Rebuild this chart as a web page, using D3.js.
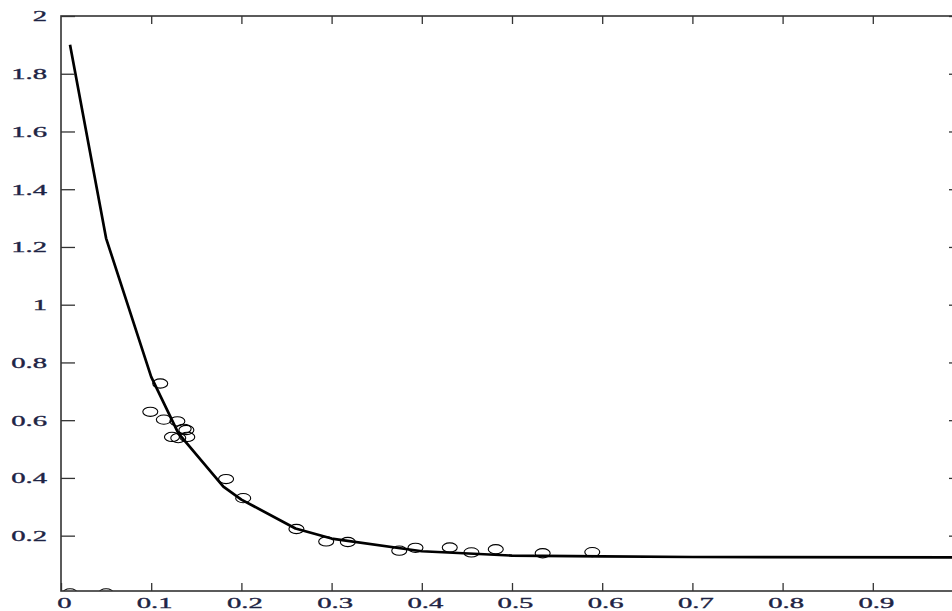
<!DOCTYPE html>
<html>
<head>
<meta charset="utf-8">
<script src="https://cdn.jsdelivr.net/npm/d3@7"></script>
<style>
  body { margin: 0; background: #fff; }
  svg { display: block; }
  .tick text { font-family: "Liberation Serif", "DejaVu Serif", serif; font-size: 15.5px; fill: #1e2444; stroke: #1e2444; stroke-width: 0.35px; }
</style>
</head>
<body>
<svg width="952" height="611"></svg>
<script>
// fitted curve (piecewise)
var curveX = [0.01, 0.05, 0.1, 0.13, 0.18, 0.2, 0.26, 0.3, 0.4, 0.5, 0.6, 0.7, 1.0];
var curveY = [1.90, 1.23, 0.75, 0.555, 0.37, 0.325, 0.225, 0.19, 0.146, 0.131, 0.128, 0.126, 0.125];

// measured points
var pointX = [0.01, 0.05, 0.099, 0.110, 0.114, 0.129, 0.123, 0.130, 0.136, 0.139, 0.140, 0.183, 0.202,
              0.261, 0.294, 0.318, 0.375, 0.393, 0.431, 0.455, 0.482, 0.534, 0.589];
var pointY = [0.0, 0.0, 0.629, 0.727, 0.602, 0.596, 0.542, 0.538, 0.57, 0.566, 0.542, 0.396, 0.330,
              0.223, 0.180, 0.178, 0.148, 0.158, 0.159, 0.142, 0.153, 0.139, 0.143];

var xTicks = [0, 0.1, 0.2, 0.3, 0.4, 0.5, 0.6, 0.7, 0.8, 0.9];
var yTicks = [0.2, 0.4, 0.6, 0.8, 1, 1.2, 1.4, 1.6, 1.8, 2];

var svg = d3.select("svg");
var pLeft = 61, pRight = 963, pTop = 16, pBottom = 591;
var stretch = 1.85;

var x = d3.scaleLinear().domain([0, 1]).range([pLeft, pRight]);
var y = d3.scaleLinear().domain([0, 2]).range([593.4, pTop]);

svg.append("clipPath").attr("id", "clip")
  .append("rect").attr("x", pLeft).attr("y", pTop).attr("width", pRight - pLeft).attr("height", pBottom - pTop);

var plot = svg.append("g").attr("clip-path", "url(#clip)");

// circles
plot.selectAll("ellipse").data(pointX).enter().append("ellipse")
  .attr("cx", function(d) { return x(d); })
  .attr("cy", function(d, i) { return y(pointY[i]); })
  .attr("rx", 7.5).attr("ry", 4.6)
  .attr("fill", "none").attr("stroke", "#000").attr("stroke-width", 1.1);

// curve
var line = d3.line().x(function(d) { return x(d); }).y(function(d, i) { return y(curveY[i]); });
plot.append("path").datum(curveX)
  .attr("d", line)
  .attr("fill", "none").attr("stroke", "#000").attr("stroke-width", 2.7).attr("stroke-linejoin", "round");

// axes
var fmt = function(d) { return d3.format("")(d); };

var gb = svg.append("g").attr("transform", "translate(0," + pBottom + ")")
  .call(d3.axisBottom(x).tickValues(xTicks).tickSize(-8).tickPadding(6).tickFormat(fmt));
gb.selectAll(".tick text").attr("transform", "scale(" + stretch + ",1)").attr("dx", 3 / stretch);

var gt = svg.append("g").attr("transform", "translate(0," + pTop + ")")
  .call(d3.axisTop(x).tickValues(xTicks.slice(1)).tickSize(-8).tickFormat(""));

var gl = svg.append("g").attr("transform", "translate(" + pLeft + ",0)")
  .call(d3.axisLeft(y).tickValues(yTicks).tickSize(-14).tickFormat(fmt));
gl.selectAll(".tick text").attr("x", -14 / stretch).attr("transform", "scale(" + stretch + ",1)");

var gr = svg.append("g").attr("transform", "translate(" + pRight + ",0)")
  .call(d3.axisRight(y).tickValues(yTicks).tickSize(-14).tickFormat(""));

svg.selectAll(".domain").remove();
svg.selectAll(".tick line").attr("stroke", "#333").attr("stroke-width", 1.3);

// frame
svg.append("rect").attr("x", pLeft).attr("y", pTop).attr("width", pRight - pLeft).attr("height", pBottom - pTop)
  .attr("fill", "none").attr("stroke", "#333").attr("stroke-width", 1.6);
</script>
</body>
</html>
